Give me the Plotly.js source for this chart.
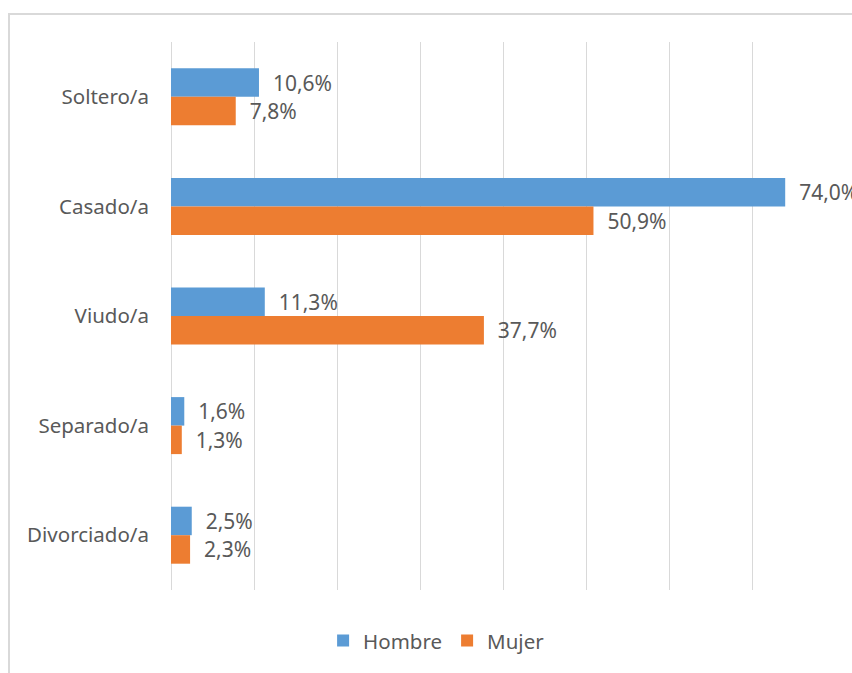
<!DOCTYPE html>
<html>
<head>
<meta charset="utf-8">
<script src="https://cdn.plot.ly/plotly-3.0.1.min.js"></script>
<style>
  html, body { margin: 0; padding: 0; background: #fff; }
  #chart { width: 852px; height: 673px; }
</style>
</head>
<body>
<div id="chart"></div>
<script>
const categories = ["Soltero/a", "Casado/a", "Viudo/a", "Separado/a", "Divorciado/a"];
const hombre = [10.6, 74.0, 11.3, 1.6, 2.5];
const mujer = [7.8, 50.9, 37.7, 1.3, 2.3];
const seriesNames = ["Hombre", "Mujer"];
const tickVals = [0, 10, 20, 30, 40, 50, 60, 70, 80];

const fontFam = "'Noto Sans', 'Open Sans', sans-serif";
const textColor = "#595959";
const pad = "\u00a0\u00a0";

const traces = [
  {
    type: "bar", orientation: "h", name: seriesNames[0],
    y: categories, x: hombre,
    marker: { color: "#5B9BD5" },
    texttemplate: pad + "%{x:.1f}%", textposition: "outside",
    constraintext: "none", cliponaxis: false,
    textfont: { family: fontFam, size: 21, color: textColor },
    hoverinfo: "skip"
  },
  {
    type: "bar", orientation: "h", name: seriesNames[1],
    y: categories, x: mujer,
    marker: { color: "#ED7D31" },
    texttemplate: pad + "%{x:.1f}%", textposition: "outside",
    constraintext: "none", cliponaxis: false,
    textfont: { family: fontFam, size: 21, color: textColor },
    hoverinfo: "skip"
  }
];

const layout = {
  width: 852, height: 673,
  margin: { l: 171, r: 17, t: 42, b: 81 },
  paper_bgcolor: "#fff", plot_bgcolor: "#fff",
  separators: ",.",
  barmode: "group",
  bargap: 0.48, bargroupgap: 0,
  font: { family: fontFam, size: 20.5, color: textColor },
  xaxis: {
    range: [0, 80], tickvals: tickVals, showticklabels: false,
    showgrid: true, gridcolor: "#d9d9d9", gridwidth: 1,
    zeroline: true, zerolinecolor: "#d9d9d9", zerolinewidth: 1,
    showline: false, fixedrange: true
  },
  yaxis: {
    type: "category", autorange: "reversed",
    showgrid: false, zeroline: false, showline: false,
    ticks: "", ticklabelstandoff: 21,
    tickfont: { family: fontFam, size: 20.5, color: textColor }
  },
  showlegend: true,
  legend: {
    orientation: "h", x: 0.40, xanchor: "center", y: -0.0927, yanchor: "middle",
    font: { family: fontFam, size: 20.5, color: textColor },
    traceorder: "normal"
  },
  shapes: [
    {
      type: "rect", xref: "paper", yref: "paper",
      x0: -0.244, x1: 1.1, y0: -0.3, y1: 1.0509,
      line: { color: "#d9d9d9", width: 2 }, fillcolor: "rgba(0,0,0,0)", layer: "below"
    }
  ]
};

Plotly.newPlot("chart", traces, layout, { displayModeBar: false, staticPlot: true });
</script>
</body>
</html>
